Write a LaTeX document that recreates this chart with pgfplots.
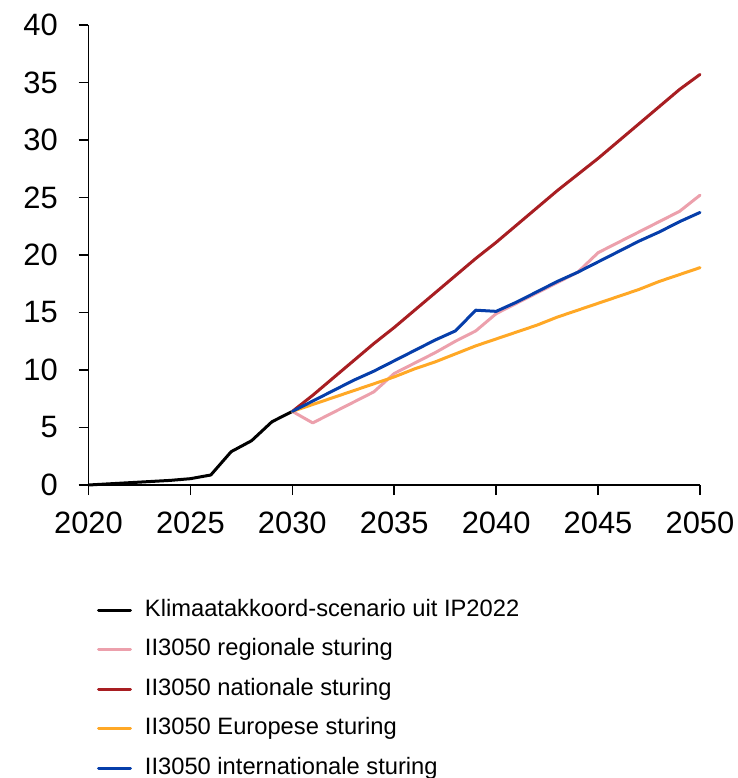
\documentclass[border=0pt]{standalone}
\usepackage{fontspec}
\setmainfont{Liberation Sans}
\usepackage{pgfplots}
\pgfplotsset{compat=1.18}
\definecolor{cblack}{RGB}{0,0,0}
\definecolor{cpink}{RGB}{236,160,172}
\definecolor{cred}{RGB}{168,30,34}
\definecolor{corange}{RGB}{255,168,38}
\definecolor{cblue}{RGB}{6,62,170}
\begin{document}
\begin{tikzpicture}
\begin{axis}[
  at={(0,0)}, anchor=south west,
  width=611.5bp, height=460bp, scale only axis,
  xmin=2020, xmax=2050, ymin=0, ymax=40,
  xtick={2020,2025,...,2050}, ytick={0,5,...,40},
  axis lines=left, axis line style={-, line width=1.6bp, black},
  tick align=outside, major tick length=10bp,
  tick style={line width=1.6bp, black},
  /pgf/number format/assume math mode=true,
  /pgf/number format/1000 sep={},
  tick label style={font=\fontsize{31}{36}\selectfont},
  xticklabel style={anchor=north, inner sep=0pt, yshift=-16.7bp},
  yticklabel style={anchor=east, inner sep=0pt, xshift=-20.5bp},
  clip=false,
  legend cell align=left,
  legend style={draw=none, fill=none, inner sep=0pt, outer sep=0pt,
    at={(axis description cs:0.0139,-0.2467)}, anchor=north west,
    font=\fontsize{23.8}{28}\selectfont,
    nodes={inner sep=0pt, text height=18bp, text depth=6bp},
    row sep=15.5bp,
    /tikz/every odd column/.style={column sep=13bp}},
  legend image code/.code={\draw[#1, line width=3bp] (0bp,0bp) -- (32bp,0bp);},
  every axis plot/.append style={line width=3bp, line join=round, line cap=round, mark=none},
]
\addplot[cblack] coordinates {(2020,0) (2021,0.1) (2022,0.2) (2023,0.3) (2024,0.4) (2025,0.55) (2026,0.87) (2027,2.9) (2028,3.85) (2029,5.5) (2030,6.4)};
\addlegendentry{Klimaatakkoord-scenario uit IP2022}
\addplot[cpink] coordinates {(2030,6.4) (2031,5.4) (2032,6.3) (2033,7.2) (2034,8.1) (2035,9.7) (2036,10.6) (2037,11.5) (2038,12.5) (2039,13.4) (2040,14.9) (2041,15.8) (2042,16.7) (2043,17.6) (2044,18.5) (2045,20.2) (2046,21.1) (2047,22.0) (2048,22.9) (2049,23.8) (2050,25.2)};
\addlegendentry{II3050 regionale sturing}
\addplot[cred] coordinates {(2030,6.4) (2031,7.8) (2032,9.3) (2033,10.8) (2034,12.3) (2035,13.7) (2036,15.2) (2037,16.7) (2038,18.2) (2039,19.7) (2040,21.1) (2041,22.6) (2042,24.1) (2043,25.6) (2044,27.0) (2045,28.4) (2046,29.9) (2047,31.4) (2048,32.9) (2049,34.4) (2050,35.7)};
\addlegendentry{II3050 nationale sturing}
\addplot[corange] coordinates {(2030,6.4) (2031,7.0) (2032,7.6) (2033,8.2) (2034,8.8) (2035,9.4) (2036,10.1) (2037,10.7) (2038,11.4) (2039,12.1) (2040,12.7) (2041,13.3) (2042,13.9) (2043,14.6) (2044,15.2) (2045,15.8) (2046,16.4) (2047,17.0) (2048,17.7) (2049,18.3) (2050,18.9)};
\addlegendentry{II3050 Europese sturing}
\addplot[cblue] coordinates {(2030,6.4) (2031,7.3) (2032,8.2) (2033,9.1) (2034,9.9) (2035,10.8) (2036,11.7) (2037,12.6) (2038,13.4) (2039,15.2) (2040,15.1) (2041,15.9) (2042,16.8) (2043,17.7) (2044,18.5) (2045,19.4) (2046,20.3) (2047,21.2) (2048,22.0) (2049,22.9) (2050,23.7)};
\addlegendentry{II3050 internationale sturing}
\end{axis}
\pgfresetboundingbox
\useasboundingbox (-88.5bp,-293bp) rectangle (649.5bp,485bp);
\end{tikzpicture}
\end{document}
